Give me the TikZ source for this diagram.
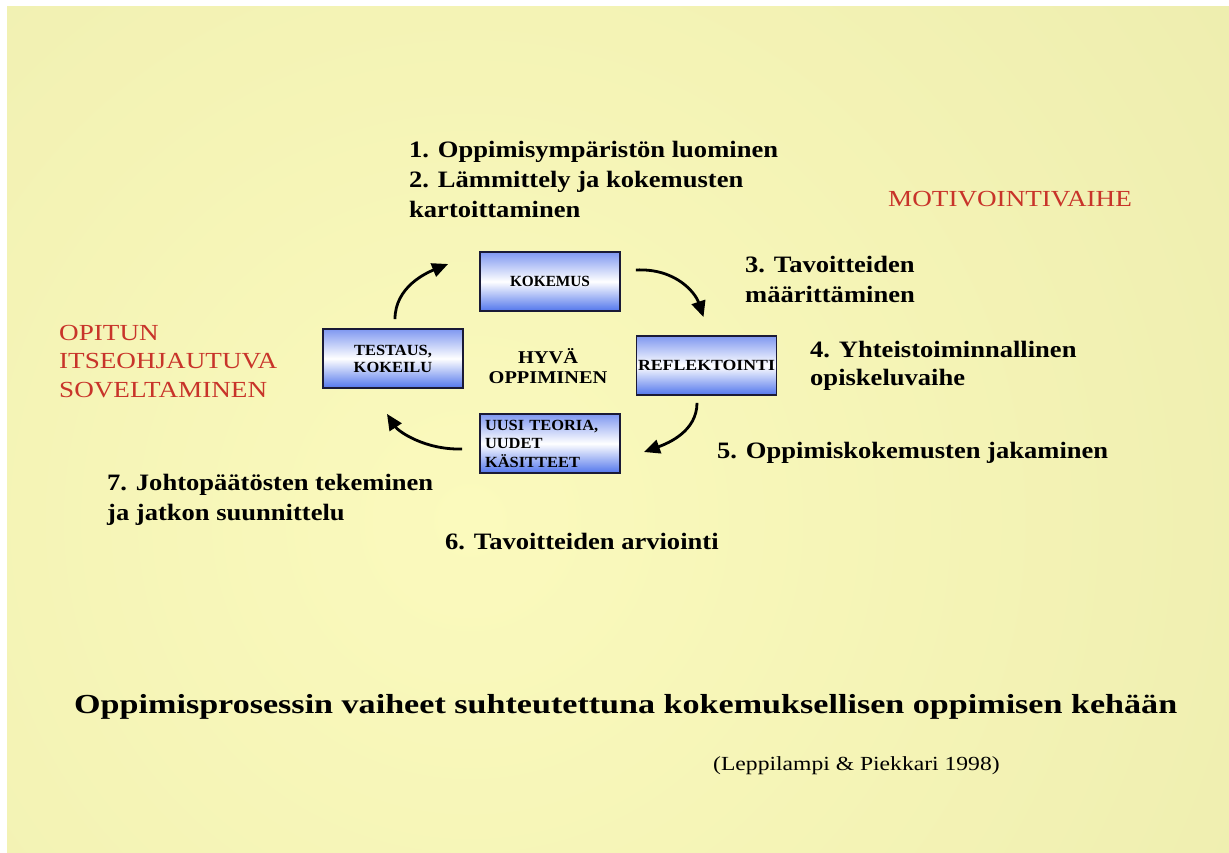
\documentclass[tikz,border=0pt]{standalone}
\usepackage{fontspec}
\usepackage{graphicx}
\usetikzlibrary{arrows.meta,calc}
\setmainfont{Liberation Serif}
\newfontfamily\bodyf[FakeStretch=1.13]{Liberation Serif}
\newfontfamily\titlef[FakeStretch=1.24]{Liberation Serif}
\newfontfamily\redf[FakeStretch=1.18]{Liberation Serif}
\newfontfamily\citef[FakeStretch=1.18]{Liberation Serif}
\newfontfamily\boxf[FakeStretch=1.06]{Liberation Serif}
\definecolor{bgedge}{HTML}{E3E3A3}
\definecolor{bgmid}{HTML}{FBFABD}
\definecolor{redtxt}{HTML}{C8342A}
\definecolor{boxtop}{HTML}{7F98F0}
\definecolor{boxbot}{HTML}{5276EC}
\definecolor{boxline}{HTML}{1A1A36}
\tikzset{
  bluebox/.style={draw=boxline, line width=1.8pt, top color=boxtop, bottom color=boxbot, middle color=white,
    minimum width=140pt, minimum height=59pt, inner sep=0pt, font=\boxf\bfseries\fontsize{15.5}{17}\selectfont},
  bodytxt/.style={anchor=base west, inner sep=0pt, font=\bodyf\bfseries\fontsize{23.5}{30}\selectfont},
  redtext/.style={anchor=base west, inner sep=0pt, text=redtxt, font=\redf\fontsize{23}{28}\selectfont},
  arr/.style={line width=2.8pt, -{Triangle[length=16pt,width=14pt]}}
}
\begin{document}
\begin{tikzpicture}[x=1pt,y=-1pt]
\useasboundingbox (0,0) rectangle (1229,852);
\fill[white] (0,0) rectangle (1229,852);
\fill[bgedge] (7,6) rectangle (1229,852);
\begin{scope}
  \clip (7,6) rectangle (1229,852);
  \shade[inner color=bgmid, outer color=bgedge] (470,520) circle[radius=1700];
\end{scope}

% boxes
\node[bluebox] (kok) at (550,281.5) {\resizebox{80pt}{\height}{KOKEMUS}};
\node[bluebox, align=center] (test) at (393,358.5) {TESTAUS,\\KOKEILU};
\node[bluebox] (refl) at (706.5,365.5) {\resizebox{137pt}{\height}{REFLEKTOINTI}};
\node[bluebox, align=left, text width=130pt, font=\boxf\bfseries\fontsize{15.5}{18.5}\selectfont] (uusi) at (550,443.5) {UUSI TEORIA,\\UUDET\\KÄSITTEET};
\node[inner sep=0pt, align=center, font=\bodyf\bfseries\fontsize{18}{20.5}\selectfont] (hyva) at (548,366) {HYVÄ\\OPPIMINEN};

% arrows
\draw[arr] ($(kok.east)+(15,-11.5)$) .. controls +(40,-2) and +(-8,-24) .. ($(refl.north)+(-3,-18)$);
\draw[arr] ($(refl.south)+(-9.5,7)$) .. controls +(0,28) and +(25,-9) .. ($(uusi.east)+(23,8.5)$);
\draw[arr] ($(uusi.west)+(-17,5.5)$) .. controls +(-38,1) and +(11,17) .. ($(test.south)+(-6,25)$);
\draw[arr] ($(test.north)+(2,-9)$) .. controls +(0,-32) and +(-22,9) .. ($(kok.west)+(-31,-17.5)$);

% phase texts
\node[bodytxt] (t1a) at (409,157) {1. Oppimisympäristön luominen};
\node[bodytxt] (t1b) at (409,187) {2. Lämmittely ja kokemusten};
\node[bodytxt] (t1c) at (409,217) {kartoittaminen};
\node[bodytxt] (t3a) at (745,272) {3. Tavoitteiden};
\node[bodytxt] (t3b) at (745,302) {määrittäminen};
\node[bodytxt] (t4a) at (810,357) {4. Yhteistoiminnallinen};
\node[bodytxt] (t4b) at (810,385) {opiskeluvaihe};
\node[bodytxt] (t5) at (717,458) {5. Oppimiskokemusten jakaminen};
\node[bodytxt] (t6) at (445,549) {6. Tavoitteiden arviointi};
\node[bodytxt] (t7a) at (107,490) {7. Johtopäätösten tekeminen};
\node[bodytxt] (t7b) at (107,520) {ja jatkon suunnittelu};

% red texts
\node[redtext] (mot) at (888,206) {MOTIVOINTIVAIHE};
\node[redtext] (op1) at (59,340) {OPITUN};
\node[redtext] (op2) at (59,368) {ITSEOHJAUTUVA};
\node[redtext] (op3) at (59,397) {SOVELTAMINEN};

% title and citation
\node[anchor=base west, inner sep=0pt, font=\titlef\bfseries\fontsize{27.5}{33}\selectfont] (title) at (74,713) {Oppimisprosessin vaiheet suhteutettuna kokemuksellisen oppimisen kehään};
\node[anchor=base west, inner sep=0pt, font=\citef\fontsize{20}{24}\selectfont] (cite) at (713,770) {(Leppilampi \& Piekkari 1998)};
\end{tikzpicture}
\end{document}
